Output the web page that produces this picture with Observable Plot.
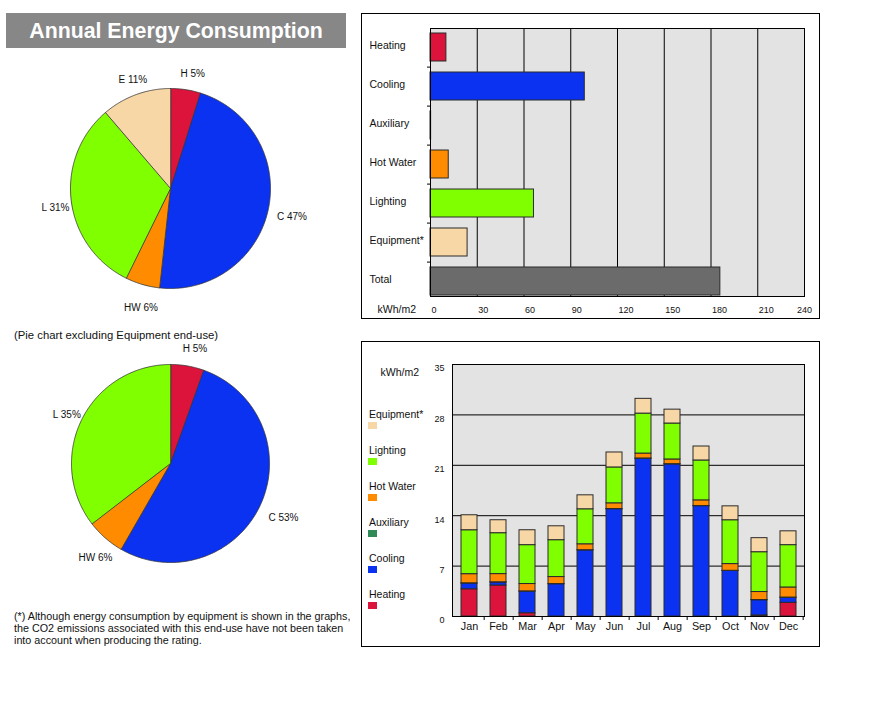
<!DOCTYPE html>
<html>
<head>
<meta charset="utf-8">
<script src="https://cdn.jsdelivr.net/npm/d3@7"></script>
<script src="https://cdn.jsdelivr.net/npm/@observablehq/plot@0.6"></script>
<style>
  html, body { margin: 0; padding: 0; background: #fff; }
  body { font-family: "Liberation Sans", Arial, sans-serif; color: #111; }
  #root { position: relative; width: 872px; height: 702px; overflow: hidden; }
  .abs { position: absolute; }
  .frame { position: absolute; border: 1px solid #000; box-sizing: border-box; }
  .title { left: 6px; top: 13px; width: 340px; height: 35px; background: #878787; color: #fff;
           font-weight: bold; font-size: 21.3px; line-height: 37px; text-align: center; }
  .note { font-size: 10.75px; line-height: 12px; white-space: nowrap; }
  .pienote { font-size: 11.3px; line-height: 12px; white-space: nowrap; }
  .leg { font-size: 10.5px; line-height: 12px; white-space: nowrap; }
  .sw { position: absolute; width: 9px; height: 7px; }
  svg { overflow: visible; }
</style>
</head>
<body>
<div id="root"></div>
<script>
// ---------------- DATA ----------------
const categories = ["Heating", "Cooling", "Auxiliary", "Hot Water", "Lighting", "Equipment*", "Total"];
const annualValues = [10.2, 99, 0.4, 11.7, 66.4, 23.8, 186];
const categoryColors = ["#dc143c", "#0a32f0", "#2e8b57", "#ff8c00", "#7fff00", "#f8d7a6", "#6b6b6b"];
const annualTicks = [0, 30, 60, 90, 120, 150, 180, 210, 240];

const pieAbbr = ["H", "C", "HW", "L", "E"];
const pieAllNames = ["Heating", "Cooling", "Hot Water", "Lighting", "Equipment*"];
const pieExclNames = ["Heating", "Cooling", "Hot Water", "Lighting"];

const months = ["Jan", "Feb", "Mar", "Apr", "May", "Jun", "Jul", "Aug", "Sep", "Oct", "Nov", "Dec"];
const seriesOrder = ["Heating", "Cooling", "Auxiliary", "Hot Water", "Lighting", "Equipment*"];
const seriesColors = ["#dc143c", "#0a32f0", "#2e8b57", "#ff8c00", "#7fff00", "#f8d7a6"];
const heatingM   = [3.78, 4.30, 0.45, 0, 0, 0, 0, 0, 0, 0, 0.15, 1.90];
const coolingM   = [0.80, 0.42, 3.01, 4.48, 9.18, 14.90, 21.92, 21.13, 15.32, 6.32, 2.11, 0.70];
const auxiliaryM = [0.03, 0.03, 0.03, 0.03, 0.03, 0.03, 0.03, 0.03, 0.03, 0.03, 0.03, 0.03];
const hotWaterM  = [1.27, 1.14, 1.02, 0.97, 0.82, 0.79, 0.68, 0.65, 0.78, 0.93, 1.11, 1.40];
const lightingM  = [6.10, 5.68, 5.40, 5.12, 4.86, 4.98, 5.55, 4.99, 5.54, 6.09, 5.53, 5.88];
const equipmentM = [2.08, 1.80, 2.07, 1.93, 1.94, 2.08, 2.05, 1.93, 1.94, 1.93, 1.95, 1.92];
const monthlyTicks = [0, 7, 14, 21, 28, 35];

const titleText = "Annual Energy Consumption";
const pieNoteText = "(Pie chart excluding Equipment end-use)";
const footnoteLines = [
  "(*) Although energy consumption by equipment is shown in the graphs,",
  "the CO2 emissions associated with this end-use have not been taken",
  "into account when producing the rating."
];

// ---------------- HELPERS ----------------
const FONT = "'Liberation Sans', Arial, sans-serif";
const root = document.getElementById("root");
function addDiv(cls, css, text) {
  const d = document.createElement("div");
  d.className = cls;
  Object.assign(d.style, css);
  if (text != null) d.textContent = text;
  root.appendChild(d);
  return d;
}
function place(svg, left, top) {
  svg.style.position = "absolute";
  svg.style.left = left + "px";
  svg.style.top = top + "px";
  root.appendChild(svg);
}
const colorOf = name => categoryColors[categories.indexOf(name)];
const abbrOf = name => pieAbbr[pieAllNames.indexOf(name)];

// ---------------- TITLE ----------------
addDiv("abs title", {}, titleText);

// ---------------- PIES ----------------
function pieChart(names, radius, width, height, yTop, yBottom) {
  const items = names.map(n => ({name: n, v: annualValues[categories.indexOf(n)]}));
  const sum = d3.sum(items, d => d.v);
  const arcs = d3.pie().sort(null).value(d => d.v)(items);
  const marks = [];
  const labels = [];
  for (const a of arcs) {
    const pts = [{x: 0, y: 0}];
    const n = Math.max(2, Math.ceil((a.endAngle - a.startAngle) / 0.01));
    for (let k = 0; k <= n; k++) {
      const t = a.startAngle + (a.endAngle - a.startAngle) * k / n;
      pts.push({x: radius * Math.sin(t), y: radius * Math.cos(t)});
    }
    marks.push(Plot.line(pts, {x: "x", y: "y", fill: colorOf(a.data.name), stroke: "#333",
      strokeWidth: 0.8, curve: "linear-closed"}));
    const mid = (a.startAngle + a.endAngle) / 2;
    labels.push({x: 1.2 * Math.sin(mid), y: 1.2 * Math.cos(mid),
      text: abbrOf(a.data.name) + " " + Math.round(100 * a.data.v / sum) + "%"});
  }
  marks.push(Plot.text(labels, {x: "x", y: "y", text: "text", dx: 4, dy: 4, fontSize: 10,
    fill: "#111", textAnchor: "middle"}));
  return Plot.plot({
    width, height, margin: 0,
    x: {domain: [-width / 200, width / 200], axis: null},
    y: {domain: [yBottom, yTop], axis: null},
    style: {fontFamily: FONT, background: "transparent", overflow: "visible"},
    marks
  });
}
place(pieChart(pieAllNames, 1.0, 340, 265, 1.33, -1.32), 0, 55);
addDiv("abs pienote", {left: "14px", top: "329px"}, pieNoteText);
place(pieChart(pieExclNames, 0.99, 340, 260, 1.30, -1.30), 0, 333);
footnoteLines.forEach((t, i) => addDiv("abs note", {left: "14px", top: (610 + 12 * i) + "px"}, t));

// ---------------- ANNUAL BAR CHART ----------------
addDiv("frame", {left: "361px", top: "13px", width: "459px", height: "306px"});
const annual = categories.map((c, i) => ({cat: c, value: annualValues[i], color: categoryColors[i]}));
const barPlot = Plot.plot({
  width: 459, height: 306,
  marginLeft: 69, marginRight: 16, marginTop: 15, marginBottom: 23,
  x: {domain: [0, 240], axis: null},
  y: {domain: categories, range: [19.3, 283], paddingInner: 0.288, paddingOuter: 0, axis: null},
  color: {type: "identity"},
  style: {fontFamily: FONT, fontSize: "10.5px", background: "transparent", overflow: "visible", color: "#111"},
  marks: [
    Plot.frame({fill: "#e3e3e3", stroke: null}),
    Plot.ruleX(annualTicks.slice(1, -1), {stroke: "#000", strokeWidth: 1}),
    Plot.barX(annual, {x: "value", y: "cat", fill: "color", stroke: "#2a2a2a", strokeWidth: 1}),
    Plot.frame({stroke: "#000", strokeWidth: 1}),
    Plot.axisY(categories.slice(0, -1), {tickSize: 3, tickFormat: () => "", dy: 19.6, label: null, stroke: "#000"}),
    Plot.text(categories, {y: d => d, text: d => d, frameAnchor: "left", dx: -61, dy: -1.5, textAnchor: "start", fontSize: 10.5, fill: "#111"}),
    Plot.text(annualTicks.slice(0, -1), {x: d => d, text: d => String(d), frameAnchor: "bottom", dy: 16.5, dx: 1, textAnchor: "start", fontSize: 9, fill: "#111"}),
    Plot.text(annualTicks.slice(-1), {x: d => d, text: d => String(d), frameAnchor: "bottom", dy: 16.5, textAnchor: "middle", fontSize: 9, fill: "#111"}),
    Plot.text(["kWh/m2"], {text: d => d, frameAnchor: "bottom-left", dx: -53, dy: 16.5, textAnchor: "start", fontSize: 10.5, fill: "#111"})
  ]
});
place(barPlot, 361, 13);

// ---------------- MONTHLY STACKED CHART ----------------
addDiv("frame", {left: "361px", top: "341px", width: "459px", height: "306px"});
const monthlySeries = [heatingM, coolingM, auxiliaryM, hotWaterM, lightingM, equipmentM];
const monthly = months.flatMap((m, i) => seriesOrder.map((s, j) => ({month: m, series: s, value: monthlySeries[j][i]})));
const step = (459 - 91 - 16) / months.length;
const monthPlot = Plot.plot({
  width: 459, height: 306,
  marginLeft: 91, marginRight: 16, marginTop: 23, marginBottom: 31,
  x: {domain: months, paddingInner: 0.465, paddingOuter: 0.2325, axis: null},
  y: {domain: [0, 35], axis: null},
  color: {domain: seriesOrder, range: seriesColors},
  style: {fontFamily: FONT, fontSize: "10.5px", background: "transparent", overflow: "visible", color: "#111"},
  marks: [
    Plot.frame({fill: "#e3e3e3", stroke: null}),
    Plot.ruleY(monthlyTicks.slice(1, -1), {stroke: "#000", strokeWidth: 1}),
    Plot.barY(monthly, {x: "month", y: "value", fill: "series", order: seriesOrder, stroke: "#2a2a2a", strokeWidth: 1}),
    Plot.frame({stroke: "#000", strokeWidth: 1}),
    Plot.axisX(months, {tickSize: 4, tickFormat: () => "", dx: step / 2, label: null, stroke: "#000"}),
    Plot.text(months, {x: d => d, text: d => d, frameAnchor: "bottom", dy: 13, fontSize: 10.8, fill: "#111"}),
    Plot.text(monthlyTicks, {y: d => d, text: d => String(d), frameAnchor: "left", dx: -8, dy: 4, textAnchor: "end", fontSize: 9, fill: "#111"}),
    Plot.text(["kWh/m2"], {text: d => d, frameAnchor: "top-left", dx: -72, dy: 4, textAnchor: "start", fontSize: 10.5, fill: "#111"})
  ]
});
place(monthPlot, 361, 341);

// legend (top to bottom: reverse stack order)
seriesOrder.slice().reverse().forEach((s, i) => {
  const cy = 414 + 36 * i;
  addDiv("abs leg", {left: "369px", top: (cy - 6) + "px"}, s);
  addDiv("sw", {left: "368px", top: (cy + 8) + "px", background: seriesColors[seriesOrder.indexOf(s)]});
});
</script>
</body>
</html>
